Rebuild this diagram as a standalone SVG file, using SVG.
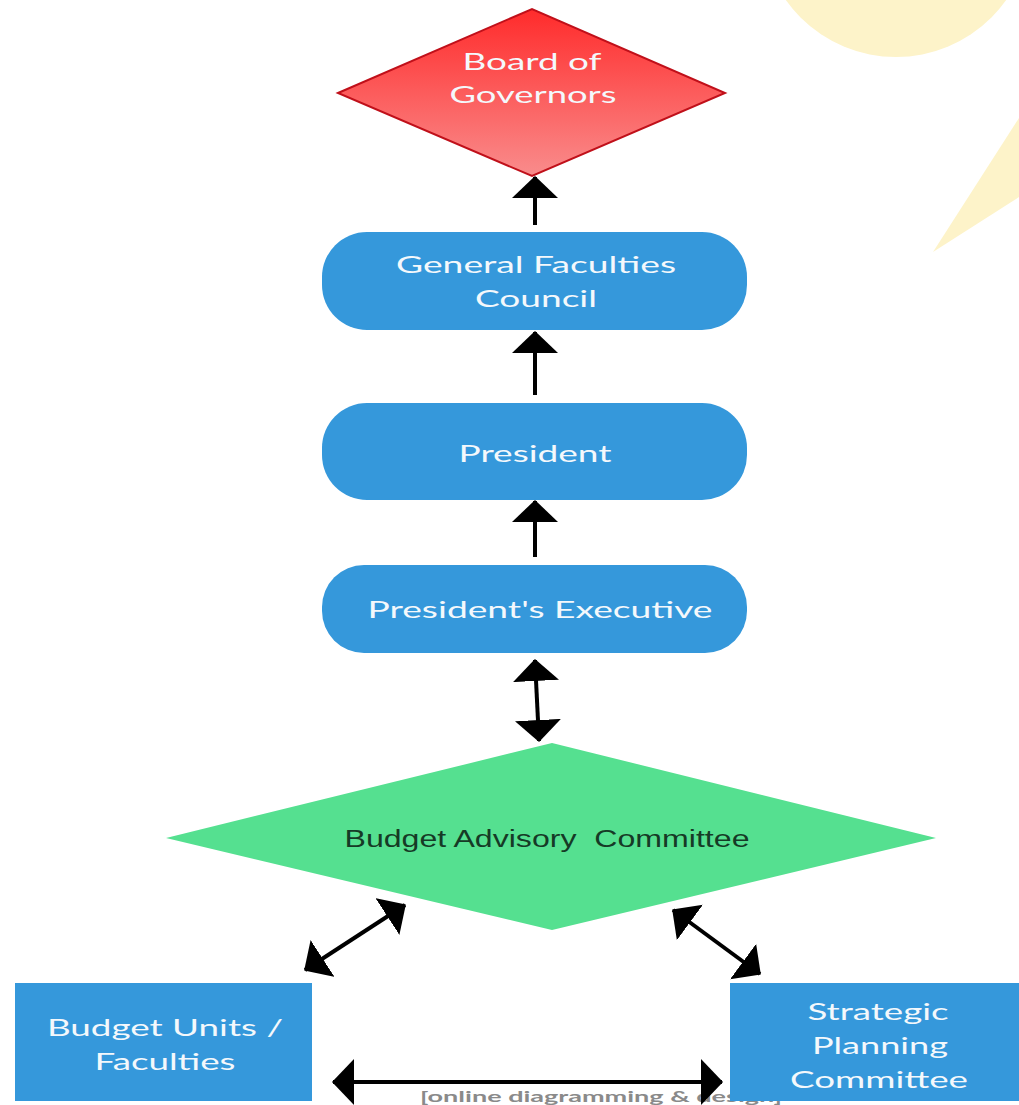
<svg xmlns="http://www.w3.org/2000/svg" width="1019" height="1105" viewBox="0 0 1019 1105">
<defs>
<linearGradient id="redg" x1="0" y1="0" x2="0" y2="1">
<stop offset="0" stop-color="#ff2b2b"/>
<stop offset="1" stop-color="#f98c8c"/>
</linearGradient>
<marker id="ah" viewBox="0 0 22 46" refX="21" refY="23" markerWidth="22" markerHeight="46" markerUnits="userSpaceOnUse" orient="auto-start-reverse">
<path d="M0,0 L22,23 L0,46 Z" fill="#000"/>
</marker>
<marker id="ahs" viewBox="0 0 22 44" refX="21" refY="22" markerWidth="22" markerHeight="44" markerUnits="userSpaceOnUse" orient="auto-start-reverse">
<path d="M0,0 L22,22 L0,44 Z" fill="#000"/>
</marker>
</defs>
<style>
.lbl{font-family:Lato,"Open Sans","Liberation Sans",sans-serif;font-size:23px;fill:#f4f8fc;text-anchor:middle}
.blue{fill:#3598db}
.conn line{stroke:#000;stroke-width:4}
</style>
<rect width="1019" height="1105" fill="#fff"/>
<g id="decor" fill="#fdf3c9">
<circle cx="896" cy="-78" r="135"/>
<polygon points="933,252 1019,118 1019,197"/>
</g>
<text x="420" y="1102" font-family="Lato,'Liberation Sans',sans-serif" font-size="16" font-weight="bold" fill="#8a8a8a" textLength="362" lengthAdjust="spacingAndGlyphs">[online diagramming &amp; design]</text>
<g id="board">
<polygon points="338,93 532,9 725,93 532,176" fill="url(#redg)" stroke="#c0101a" stroke-width="2"/>
<text class="lbl" x="532" y="70" textLength="139" lengthAdjust="spacingAndGlyphs">Board of</text>
<text class="lbl" x="533" y="103" textLength="167" lengthAdjust="spacingAndGlyphs">Governors</text>
</g>
<g id="gfc">
<rect class="blue" x="322" y="232" width="425" height="98" rx="45"/>
<text class="lbl" x="536" y="273" textLength="280" lengthAdjust="spacingAndGlyphs">General Faculties</text>
<text class="lbl" x="536" y="307" textLength="122" lengthAdjust="spacingAndGlyphs">Council</text>
</g>
<g id="president">
<rect class="blue" x="322" y="403" width="425" height="97" rx="45"/>
<text class="lbl" x="535" y="462" textLength="153" lengthAdjust="spacingAndGlyphs">President</text>
</g>
<g id="exec">
<rect class="blue" x="322" y="565" width="425" height="88" rx="42"/>
<text class="lbl" x="540" y="618" textLength="345" lengthAdjust="spacingAndGlyphs">President's Executive</text>
</g>
<g id="bac">
<polygon points="166,838 552,743 936,838 552,930" fill="#55e090"/>
<text x="547" y="847" font-family="'Liberation Sans',Arial,sans-serif" font-size="23" fill="#163a26" text-anchor="middle" textLength="405" lengthAdjust="spacingAndGlyphs" xml:space="preserve">Budget Advisory  Committee</text>
</g>
<g id="units">
<rect class="blue" x="15" y="983" width="297" height="118"/>
<text class="lbl" x="165" y="1036" textLength="236" lengthAdjust="spacingAndGlyphs">Budget Units /</text>
<text class="lbl" x="165" y="1070" textLength="141" lengthAdjust="spacingAndGlyphs">Faculties</text>
</g>
<g id="strategic">
<rect class="blue" x="730" y="983" width="295" height="118"/>
<text class="lbl" x="878" y="1020" textLength="141" lengthAdjust="spacingAndGlyphs">Strategic</text>
<text class="lbl" x="880" y="1054" textLength="136" lengthAdjust="spacingAndGlyphs">Planning</text>
<text class="lbl" x="879" y="1088" textLength="178" lengthAdjust="spacingAndGlyphs">Committee</text>
</g>
<g id="connectors" class="conn">
<line x1="535" y1="225" x2="535" y2="177" marker-end="url(#ah)"/>
<line x1="535" y1="395" x2="535" y2="332" marker-end="url(#ah)"/>
<line x1="535" y1="557" x2="535" y2="501" marker-end="url(#ah)"/>
<line x1="535" y1="660" x2="539" y2="741" marker-start="url(#ah)" marker-end="url(#ah)"/>
<line x1="405" y1="905" x2="305" y2="970" marker-start="url(#ahs)" marker-end="url(#ahs)"/>
<line x1="673" y1="910" x2="760" y2="974" marker-start="url(#ahs)" marker-end="url(#ahs)"/>
<line x1="333" y1="1082" x2="722" y2="1082" marker-start="url(#ah)" marker-end="url(#ah)"/>
</g>
</svg>
